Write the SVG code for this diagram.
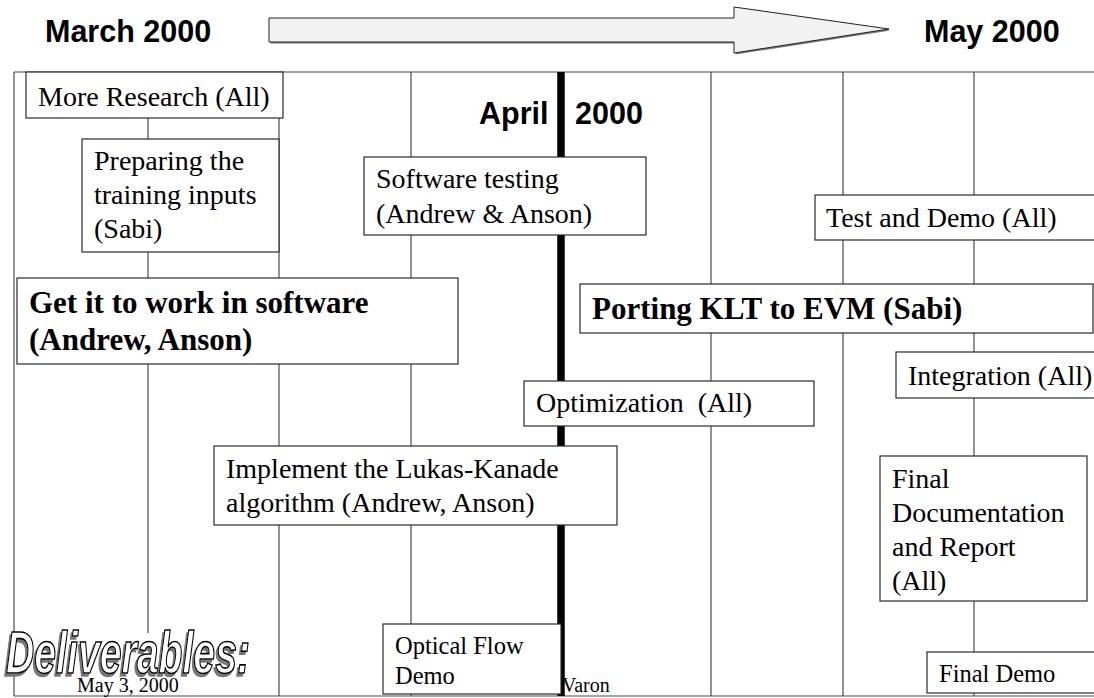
<svg xmlns="http://www.w3.org/2000/svg" width="1094" height="698" viewBox="0 0 1094 698">
<style>
.grid{stroke:#4a4a4a;stroke-width:1.2;fill:none}
.box{fill:#fff;stroke:#2a2a2a;stroke-width:1.2}
.t{font-family:"Liberation Serif","Times New Roman",serif;font-size:28px;fill:#000}
.tb{font-family:"Liberation Serif","Times New Roman",serif;font-size:31px;font-weight:bold;fill:#000}
.ts{font-family:"Liberation Serif","Times New Roman",serif;font-size:24.5px;fill:#000}
.tf{font-family:"Liberation Serif","Times New Roman",serif;font-size:20px;fill:#000}
.h{font-family:"Liberation Sans",Arial,sans-serif;font-size:30.5px;font-weight:bold;fill:#000}
</style>
<defs>
<filter id="shadow" x="-5%" y="-10%" width="110%" height="130%">
<feOffset in="SourceAlpha" dx="-2" dy="3" result="off"/>
<feFlood flood-color="#777"/>
<feComposite in2="off" operator="in" result="sh"/>
<feMerge><feMergeNode in="sh"/><feMergeNode in="SourceGraphic"/></feMerge>
</filter>
</defs>
<rect width="1094" height="698" fill="#fff"/>

<g id="header">
<text class="h" x="45" y="42">March 2000</text>
<polygon points="270.5,19.5 735.5,19.5 735.5,8.5 890.5,30.5 735.5,54.5 735.5,43.5 270.5,43.5" fill="#7a7a7a"/>
<polygon points="269,18 734,18 734,7 889,29 734,53 734,42 269,42" fill="#f2f2f2" stroke="#222" stroke-width="1"/>
<text class="h" x="924" y="42">May 2000</text>
</g>

<g id="connectors">
<line class="grid" x1="14" y1="72" x2="1094" y2="72"/>
<line class="grid" x1="14" y1="72" x2="14" y2="696"/>
<line class="grid" x1="14" y1="696" x2="1094" y2="696"/>
<line class="grid" x1="148" y1="72" x2="148" y2="633"/>
<line class="grid" x1="279" y1="72" x2="279" y2="696"/>
<line class="grid" x1="411" y1="72" x2="411" y2="696"/>
<line class="grid" x1="711" y1="72" x2="711" y2="696"/>
<line class="grid" x1="843" y1="72" x2="843" y2="696"/>
<line class="grid" x1="974" y1="72" x2="974" y2="696"/>
<line x1="561" y1="72" x2="561" y2="696" stroke="#000" stroke-width="7.5"/>
</g>

<g id="april">
<text class="h" x="479" y="124">April</text>
<text class="h" x="575" y="124">2000</text>
</g>

<g id="more-research">
<rect class="box" x="26" y="72" width="257" height="46"/>
<text class="t" x="38" y="106">More Research (All)</text>
</g>

<g id="preparing">
<rect class="box" x="82" y="139" width="197" height="113"/>
<text class="t" x="94" y="170">Preparing the</text>
<text class="t" x="94" y="204">training inputs</text>
<text class="t" x="94" y="238">(Sabi)</text>
</g>

<g id="software-testing">
<rect class="box" x="364" y="157" width="282" height="78"/>
<text class="t" x="376" y="188">Software testing</text>
<text class="t" x="376" y="223">(Andrew &amp; Anson)</text>
</g>

<g id="test-demo">
<rect class="box" x="815" y="195" width="285" height="45"/>
<text class="t" x="826" y="227">Test and Demo (All)</text>
</g>

<g id="get-it-to-work">
<rect class="box" x="17" y="278" width="441" height="86"/>
<text class="tb" x="29" y="313">Get it to work in software</text>
<text class="tb" x="29" y="350">(Andrew, Anson)</text>
</g>

<g id="porting">
<rect class="box" x="580" y="284" width="513" height="49"/>
<text class="tb" x="592" y="319">Porting KLT to EVM (Sabi)</text>
</g>

<g id="integration">
<rect class="box" x="896" y="352" width="204" height="46"/>
<text class="t" x="908" y="385">Integration (All)</text>
</g>

<g id="optimization">
<rect class="box" x="524" y="381" width="290" height="45"/>
<text class="t" x="536" y="412" xml:space="preserve">Optimization  (All)</text>
</g>

<g id="implement">
<rect class="box" x="214" y="446" width="403" height="79"/>
<text class="t" x="226" y="478">Implement the Lukas-Kanade</text>
<text class="t" x="226" y="512">algorithm (Andrew, Anson)</text>
</g>

<g id="final-doc">
<rect class="box" x="880" y="456" width="207" height="145"/>
<text class="t" x="892" y="488">Final</text>
<text class="t" x="892" y="522">Documentation</text>
<text class="t" x="892" y="556">and Report</text>
<text class="t" x="892" y="590">(All)</text>
</g>

<g id="footer">
<text class="tf" x="77" y="692">May 3, 2000</text>
<text class="tf" x="562" y="692">Varon</text>
</g>

<g id="optical-flow">
<rect class="box" x="383" y="624" width="178" height="70"/>
<text class="ts" x="395" y="654">Optical Flow</text>
<text class="ts" x="395" y="684">Demo</text>
</g>

<g id="final-demo">
<rect class="box" x="927" y="652" width="170" height="41"/>
<text class="ts" x="939" y="682">Final Demo</text>
</g>

<g id="deliverables">
<text x="6" y="673" font-family="Liberation Sans, Arial, sans-serif" font-size="60" font-weight="bold" font-style="italic" textLength="244" lengthAdjust="spacingAndGlyphs" fill="#fff" stroke="#000" stroke-width="1.6" filter="url(#shadow)">Deliverables:</text>
</g>
</svg>
